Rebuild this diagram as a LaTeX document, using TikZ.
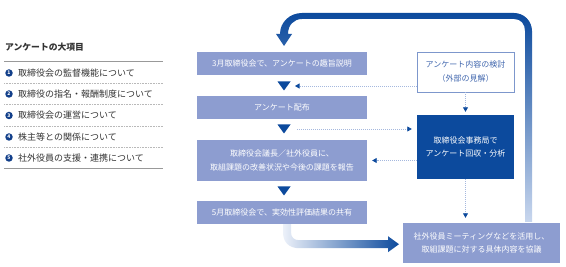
\documentclass[tikz,border=0pt]{standalone}
\usepackage{fontspec}
\setmainfont{Noto Sans CJK JP}
\usetikzlibrary{arrows.meta,calc}
\definecolor{lboxc}{HTML}{8D9DD0}
\definecolor{dkblue}{HTML}{0C4A9D}
\definecolor{dotc}{HTML}{A5B8DE}
\definecolor{kbord}{HTML}{7D97CC}
\definecolor{ktext}{HTML}{4167AE}
\definecolor{numc}{HTML}{123F8A}
\definecolor{txtc}{HTML}{333333}
\definecolor{lightend}{HTML}{C9D7EE}
\definecolor{midblue}{HTML}{5C86C4}
\definecolor{paleblue}{HTML}{EEF2FA}
\begin{document}
\begin{tikzpicture}[x=1pt,y=-1pt,
  lboxstyle/.style={fill=lboxc, draw=none, text=white, inner sep=0pt, align=center,
    font=\fontsize{8}{13.5}\selectfont},
  kbox/.style={fill=white, draw=kbord, line width=0.8pt, text=ktext, inner sep=0pt, align=center,
    font=\fontsize{8}{14}\selectfont},
  dbox/.style={fill=dkblue, draw=none, text=white, inner sep=0pt, align=center,
    font=\fontsize{8}{13}\selectfont},
  dotarrow/.style={draw=dotc, line width=0.8pt, dash pattern=on 1pt off 1pt,
    -{Triangle[length=4.5pt,width=5pt,color=dkblue,fill=dkblue]}},
  numcirc/.style={circle, fill=numc, text=white, inner sep=0pt, minimum size=7.5pt,
    font=\bfseries\fontsize{5}{5}\selectfont},
  itemtext/.style={anchor=west, inner sep=0pt, text=txtc, font=\fontsize{9}{10}\selectfont},
  solidrule/.style={draw=gray!80, line width=0.8pt},
  dotrule/.style={draw=gray!55, line width=0.7pt, dash pattern=on 0.8pt off 0.8pt},
]
\useasboundingbox (0,0) rectangle (566,267);

% ---- left panel ----
\node[anchor=west, inner sep=0pt, text=txtc, font=\bfseries\fontsize{8.8}{10}\selectfont] (title) at (5,47) {アンケートの大項目};
\draw[solidrule] (4,61) -- (163,61);
\node[numcirc] (n1) at (9,73) {1};
\node[itemtext] (i1) at (18,73) {取締役会の監督機能について};
\draw[dotrule] (4,83.5) -- (163,83.5);
\node[numcirc] (n2) at (9,94) {2};
\node[itemtext] (i2) at (18,94) {取締役の指名・報酬制度について};
\draw[dotrule] (4,104.5) -- (163,104.5);
\node[numcirc] (n3) at (9,115.5) {3};
\node[itemtext] (i3) at (18,115.5) {取締役会の運営について};
\draw[dotrule] (4,126) -- (163,126);
\node[numcirc] (n4) at (9,137) {4};
\node[itemtext] (i4) at (18,137) {株主等との関係について};
\draw[dotrule] (4,147.5) -- (163,147.5);
\node[numcirc] (n5) at (9,158) {5};
\node[itemtext] (i5) at (18,158) {社外役員の支援・連携について};
\draw[solidrule] (4,168) -- (163,168);

% ---- flow boxes ----
\node[lboxstyle, minimum width=170pt, minimum height=23pt] (b1) at (282,63.5) {3月取締役会で、アンケートの趣旨説明};
\node[lboxstyle, minimum width=170pt, minimum height=23pt] (b2) at (282,107.5) {アンケート配布};
\node[lboxstyle, minimum width=170pt, minimum height=41pt] (b3) at (282,160.5) {取締役会議長／社外役員に、\\取組課題の改善状況や今後の課題を報告};
\node[lboxstyle, minimum width=170pt, minimum height=23pt] (b4) at (282,212.5) {5月取締役会で、実効性評価結果の共有};

\node[kbox, minimum width=97pt, minimum height=40pt] (kentou) at (465.5,72) {アンケート内容の検討\\（外部の見解）};
\node[dbox, minimum width=97pt, minimum height=64pt] (dark) at (465.5,147) {取締役会事務局で\\アンケート回収・分析};
\node[lboxstyle, minimum width=157pt, minimum height=40pt] (bot) at (481.5,243) {社外役員ミーティングなどを活用し、\\取組課題に対する具体内容を協議};

% ---- triangles between boxes ----
\coordinate (t1) at (284,86);
\coordinate (t2) at (284,129);
\coordinate (t3) at (284,191);
\foreach \t in {t1,t2,t3}{
  \fill[dkblue] (\t) ++(-6.5,-4.5) -- ++(13,0) -- ++(-6.5,9) -- cycle;
}

% ---- dotted connectors ----
\draw[dotarrow] (kentou.west |- t1) -- ([xshift=11pt]t1);
\draw[dotarrow] ([xshift=13pt]t2) -- ([xshift=-5pt]dark.west |- t2);
\draw[dotarrow] (dark.west |- b3) -- ([xshift=5pt]b3.east);
\draw[dotarrow] (kentou.south) -- ([yshift=3pt]dark.north);
\draw[dotarrow] (dark.south) -- ([yshift=5pt]dark.south |- bot.north);

% ---- bottom gradient arrow (b4 -> bot) ----
\shade[left color=paleblue, right color=dkblue]
  (b4.south) ++(1,0) -- ++(0,8) .. controls +(0,10) and +(-10,0) .. ++(16,16)
  -- ++(89,0) -- ++(0,4) -- ++(11,-8) -- ++(-11,-8) -- ++(0,4) -- ++(-89,0)
  .. controls +(-5,0) and +(0,5) .. ++(-8,-8) -- ++(0,-8) -- cycle;

% ---- big loop arrow (bot -> b1) ----
\shade[top color=dkblue, middle color=midblue, bottom color=lightend]
  (532,222) -- (532,31) .. controls (532,21) and (524,13) .. (514,13)
  -- (302,13) .. controls (290,13) and (280,22) .. (280,34)
  -- (276,34) -- (284,46) -- (292,34) -- (288,34)
  .. controls (288,25) and (294,19) .. (302,19)
  -- (514,19) .. controls (521,19) and (525,24) .. (525,31)
  -- (525,222) -- cycle;
\end{tikzpicture}
\end{document}
